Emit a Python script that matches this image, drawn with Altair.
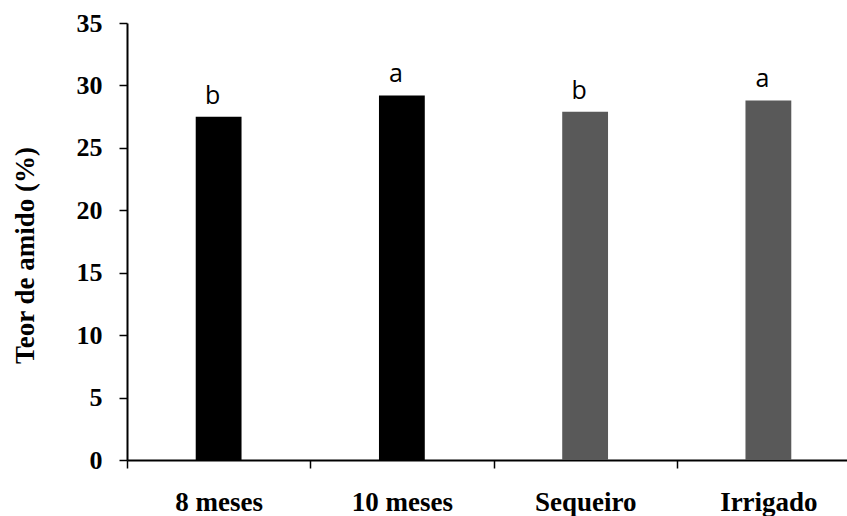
import altair as alt
import pandas as pd

categories = ["8 meses", "10 meses", "Sequeiro", "Irrigado"]
values = [27.5, 29.2, 27.9, 28.8]
letters = ["b", "a", "b", "a"]
groups = ["Idade", "Idade", "Regime", "Regime"]

df = pd.DataFrame({"cat": categories, "val": values, "lab": letters, "grp": groups})

x = alt.X(
    "cat:N",
    sort=categories,
    scale=alt.Scale(type="band", range=[0, 733], paddingInner=0, paddingOuter=0),
    axis=alt.Axis(
        title=None,
        labelAngle=0,
        tickBand="extent",
        labelFont="Liberation Serif",
        labelFontWeight="bold",
        labelFontSize=27,
        labelColor="black",
        labelBaseline="alphabetic",
        labelPadding=42,
        tickSize=8,
        tickWidth=1.5,
        tickColor="black",
        domainColor="black",
        domainWidth=2,
        grid=False,
    ),
)

y = alt.Y(
    "val:Q",
    scale=alt.Scale(domain=[0, 35], nice=False, zero=True),
    axis=alt.Axis(
        title="Teor de amido (%)",
        values=[0, 5, 10, 15, 20, 25, 30, 35],
        format="d",
        labelFont="Liberation Serif",
        labelFontWeight="bold",
        labelFontSize=26,
        labelColor="black",
        labelPadding=17,
        tickSize=8,
        tickWidth=1.5,
        tickColor="black",
        domainColor="black",
        domainWidth=2,
        grid=False,
        titleFont="Liberation Serif",
        titleFontWeight="bold",
        titleFontSize=27,
        titleColor="black",
        titleAngle=270,
        titleAlign="center",
        titleBaseline="middle",
        titleX=-102,
        titleY=232,
    ),
)

bars = alt.Chart(df).mark_bar(width=alt.RelativeBandSize(0.25)).encode(
    x=x,
    y=y,
    color=alt.Color(
        "grp:N",
        scale=alt.Scale(domain=["Idade", "Regime"], range=["#000000", "#595959"]),
        legend=None,
    ),
)

text = alt.Chart(df).mark_text(
    font="Open Sans",
    fontSize=25,
    color="black",
    baseline="alphabetic",
    align="center",
    dy=-13,
    dx=-6,
).encode(
    x=alt.X("cat:N", sort=categories),
    y=alt.Y("val:Q"),
    text="lab:N",
)

chart = (
    alt.layer(bars, text)
    .properties(
        width=720,
        height=437,
        autosize=alt.AutoSizeParams(type="none"),
        padding={"left": 127, "top": 23, "right": 0, "bottom": 56},
        background="white",
    )
    .configure_view(stroke=None)
)

chart.save("out.html", embed_options={"renderer": "svg", "actions": False})
